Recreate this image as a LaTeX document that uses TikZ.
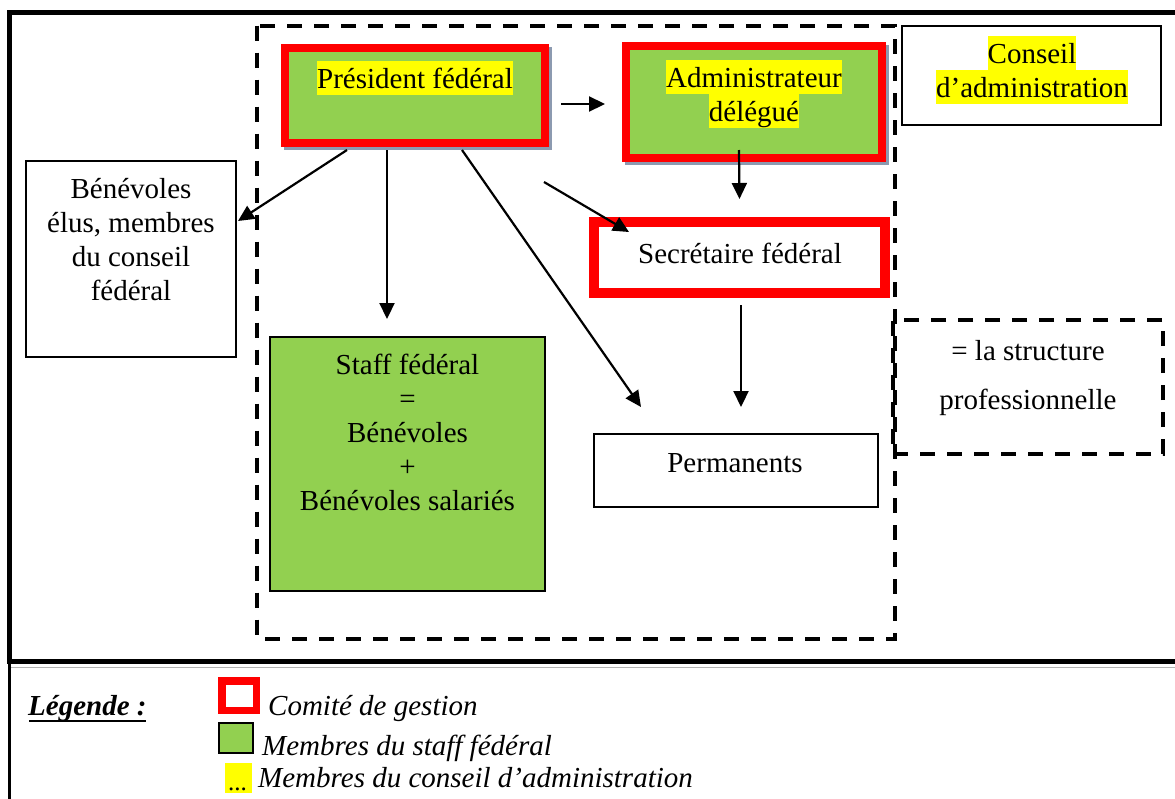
\documentclass[tikz,border=0pt]{standalone}
\usepackage{fontspec}
\setmainfont{Liberation Serif}
\usetikzlibrary{arrows.meta,calc,backgrounds}

\definecolor{frgreen}{HTML}{92D050}
\definecolor{frred}{HTML}{FF0000}
\definecolor{hlyellow}{HTML}{FFFF00}
\definecolor{shadowgrey}{HTML}{8C9AB0}

% yellow text highlight, one line at a time
\newcommand\hlt[1]{{\setlength{\fboxsep}{0pt}\colorbox{hlyellow}{\rule[-6.5pt]{0pt}{34pt}#1}}}

\tikzset{
  txt/.style={font=\fontsize{29}{34}\selectfont, inner sep=0pt, align=center},
  legtxt/.style={font=\fontsize{29}{34}\selectfont\itshape, inner sep=0pt, anchor=base west},
  redbox/.style={draw=frred, line width=8pt, fill=frgreen, inner sep=0pt},
  plainbox/.style={draw=black, line width=2pt, fill=white, inner sep=0pt},
  greenbox/.style={draw=black, line width=2pt, fill=frgreen, inner sep=0pt},
  dashbox/.style={draw=black, line width=4pt, dash pattern=on 15pt off 12pt, inner sep=0pt},
  arr/.style={-{Triangle[length=16pt,width=15pt]}, line width=2.2pt},
}

\begin{document}
\begin{tikzpicture}[x=1pt, y=-1pt]
\useasboundingbox (0,0) rectangle (1175,798);

% outer frame
\draw[line width=5pt] (1185,12) -- (9.5,12) -- (9.5,661) -- (1185,661);
% legend frame
\draw[gray!60, line width=1pt] (9.5,667) -- (1185,667);
\draw[line width=3pt] (9.5,663) -- (9.5,800);

% professional structure (dashed)
\draw[dashbox] (257,25.5) rectangle (895,638.5);

% boxes
\node[redbox, minimum width=260, minimum height=95] (pres) at (415,95.5) {};
\node[redbox, minimum width=256, minimum height=112] (admin) at (754,102) {};
\node[redbox, line width=10pt, fill=white, minimum width=291, minimum height=71] (sec) at (739.5,257.5) {};
\node[plainbox, minimum width=210, minimum height=196] (benev) at (131,259) {};
\node[greenbox, minimum width=275, minimum height=254] (staff) at (407.5,464) {};
\node[plainbox, minimum width=284, minimum height=73] (perm) at (736,470.5) {};
\node[plainbox, minimum width=259, minimum height=99] (conseil) at (1031.5,75.5) {};
\node[dashbox, minimum width=270, minimum height=134] (pro) at (1028,387) {};

% drop shadows of the two top boxes
\begin{scope}[on background layer]
  \fill[shadowgrey] ($(pres.south west)+(3,3)$) rectangle ($(pres.north east)+(3,3)$);
  \fill[shadowgrey] ($(admin.south west)+(3,3)$) rectangle ($(admin.north east)+(3,3)$);
\end{scope}

% texts
\node[txt, anchor=north] (presT) at (415,61) {\hlt{Président fédéral}};
\node[txt, anchor=north] (adminT) at (754,60) {\hlt{Administrateur}\\\hlt{délégué}};
\node[txt, anchor=north] (conseilT) at (1032,36) {\hlt{Conseil}\\\hlt{d’administration}};
\node[txt, anchor=north] (secT) at (740,239.2) {\strut Secrétaire fédéral};
\node[txt, anchor=north] (benevT) at (131,174.2) {\strut Bénévoles\\\strut élus, membres\\\strut du conseil\\\strut fédéral};
\node[txt, anchor=north] (staffT) at (407.5,350.2) {\strut Staff fédéral\\\strut =\\\strut Bénévoles\\\strut +\\\strut Bénévoles salariés};
\node[txt, anchor=north] (permT) at (735,448.2) {\strut Permanents};
\node[txt, anchor=north, font=\fontsize{29}{49}\selectfont] (proT) at (1028,325.7) {\strut = la structure\\\strut professionnelle};

% connectors
\draw[arr] ($(pres.east)+(12,8.5)$) -- ($(admin.west)+(-17,2)$);
\draw[arr] ($(pres.south)+(-68,3)$) -- ($(benev.east)+(1,-38)$);
\draw[arr] ($(pres.south)+(-28,3)$) -- ($(staff.north)+(-20.5,-17)$);
\draw[arr] ($(pres.south)+(47,3)$) -- ($(perm.north)+(-95,-26)$);
\draw[arr] ($(pres.south east)+(-5,35)$) -- ($(sec.north west)+(40,15)$);
\draw[arr] ($(admin.south)+(-15,-12)$) -- ($(sec.north)+(0,-18)$);
\draw[arr] ($(sec.south)+(1.5,7)$) -- ($(perm.north)+(5,-26)$);

% legend
\node[inner sep=0pt, anchor=base west, font=\fontsize{29}{34}\selectfont\bfseries\itshape] (lgTitle) at (28,715) {Légende :};
\draw[line width=2.2pt] ($(lgTitle.base west)+(1,6)$) -- ($(lgTitle.base east)+(-1,6)$);
\node[draw=frred, line width=7.5pt, fill=white, inner sep=0pt, minimum width=34.5, minimum height=29.5] (lgRed) at (239,695.5) {};
\node[greenbox, minimum width=34, minimum height=30] (lgGreen) at (236,738) {};
\node[fill=hlyellow, inner sep=0pt, minimum width=27, minimum height=30] (lgYellow) at (238.5,778) {};
\node[inner sep=0pt, anchor=base, font=\fontsize{25}{30}\selectfont] (lgDots) at (237.5,790) {...};
\node[legtxt] (lgRedT) at (268,715) {Comité de gestion};
\node[legtxt] (lgGreenT) at (262,755) {Membres du staff fédéral};
\node[legtxt] (lgYellowT) at (258,787) {Membres du conseil d’administration};
\end{tikzpicture}
\end{document}
